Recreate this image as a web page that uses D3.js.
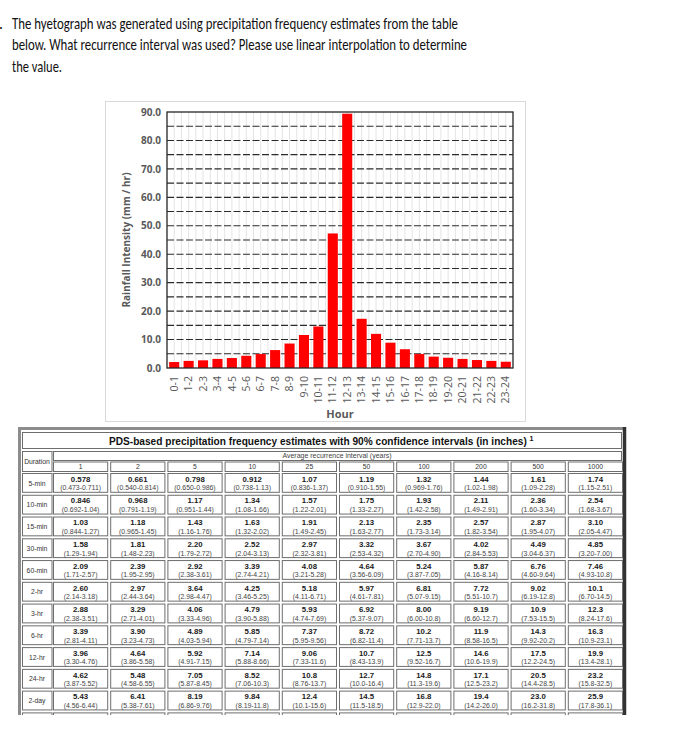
<!DOCTYPE html>
<html>
<head>
<meta charset="utf-8">
<script src="https://cdn.jsdelivr.net/npm/d3@7"></script>
<style>
  body { margin: 0; background: #fff; }
  svg { display: block; }
</style>
</head>
<body>
<script>
// question text above the figure
const questionLines = [
  "The hyetograph was generated using precipitation frequency estimates from the table",
  "below. What recurrence interval was used? Please use linear interpolation to determine",
  "the value."
];
const questionWidths = [446, 455, 50];

// hyetograph
const hours = ["0-1", "1-2", "2-3", "3-4", "4-5", "5-6", "6-7", "7-8", "8-9", "9-10", "10-11", "11-12",
  "12-13", "13-14", "14-15", "15-16", "16-17", "17-18", "18-19", "19-20", "20-21", "21-22", "22-23", "23-24"];
const intensity = [2.1, 2.5, 2.7, 3.2, 3.5, 4.3, 4.9, 6.3, 8.6, 11.6, 14.6, 47.3,
  89.4, 17.3, 12.0, 8.9, 6.6, 4.9, 4.0, 3.6, 3.2, 2.8, 2.5, 2.2];
const yTickValues = [0, 10, 20, 30, 40, 50, 60, 70, 80, 90];

// PDS table
const tableTitle = "PDS-based precipitation frequency estimates with 90% confidence intervals (in inches)";
const durations = ["5-min", "10-min", "15-min", "30-min", "60-min", "2-hr", "3-hr", "6-hr", "12-hr", "24-hr", "2-day"];
const recurrence = ["1", "2", "5", "10", "25", "50", "100", "200", "500", "1000"];
const estimates = [
  ["0.578", "0.661", "0.798", "0.912", "1.07", "1.19", "1.32", "1.44", "1.61", "1.74"],
  ["0.846", "0.968", "1.17", "1.34", "1.57", "1.75", "1.93", "2.11", "2.36", "2.54"],
  ["1.03", "1.18", "1.43", "1.63", "1.91", "2.13", "2.35", "2.57", "2.87", "3.10"],
  ["1.58", "1.81", "2.20", "2.52", "2.97", "3.32", "3.67", "4.02", "4.49", "4.85"],
  ["2.09", "2.39", "2.92", "3.39", "4.08", "4.64", "5.24", "5.87", "6.76", "7.46"],
  ["2.60", "2.97", "3.64", "4.25", "5.18", "5.97", "6.81", "7.72", "9.02", "10.1"],
  ["2.88", "3.29", "4.06", "4.79", "5.93", "6.92", "8.00", "9.19", "10.9", "12.3"],
  ["3.39", "3.90", "4.89", "5.85", "7.37", "8.72", "10.2", "11.9", "14.3", "16.3"],
  ["3.96", "4.64", "5.92", "7.14", "9.06", "10.7", "12.5", "14.6", "17.5", "19.9"],
  ["4.62", "5.48", "7.05", "8.52", "10.8", "12.7", "14.8", "17.1", "20.5", "23.2"],
  ["5.43", "6.41", "8.19", "9.84", "12.4", "14.5", "16.8", "19.4", "23.0", "25.9"]
];
const intervals = [
  ["0.473-0.711", "0.540-0.814", "0.650-0.986", "0.738-1.13", "0.836-1.37", "0.910-1.55", "0.969-1.76", "1.02-1.98", "1.09-2.28", "1.15-2.51"],
  ["0.692-1.04", "0.791-1.19", "0.951-1.44", "1.08-1.66", "1.22-2.01", "1.33-2.27", "1.42-2.58", "1.49-2.91", "1.60-3.34", "1.68-3.67"],
  ["0.844-1.27", "0.965-1.45", "1.16-1.76", "1.32-2.02", "1.49-2.45", "1.63-2.77", "1.73-3.14", "1.82-3.54", "1.95-4.07", "2.05-4.47"],
  ["1.29-1.94", "1.48-2.23", "1.79-2.72", "2.04-3.13", "2.32-3.81", "2.53-4.32", "2.70-4.90", "2.84-5.53", "3.04-6.37", "3.20-7.00"],
  ["1.71-2.57", "1.95-2.95", "2.38-3.61", "2.74-4.21", "3.21-5.28", "3.56-6.09", "3.87-7.05", "4.16-8.14", "4.60-9.64", "4.93-10.8"],
  ["2.14-3.18", "2.44-3.64", "2.98-4.47", "3.46-5.25", "4.11-6.71", "4.61-7.81", "5.07-9.15", "5.51-10.7", "6.19-12.8", "6.70-14.5"],
  ["2.38-3.51", "2.71-4.01", "3.33-4.96", "3.90-5.88", "4.74-7.69", "5.37-9.07", "6.00-10.8", "6.60-12.7", "7.53-15.5", "8.24-17.6"],
  ["2.81-4.11", "3.23-4.73", "4.03-5.94", "4.79-7.14", "5.95-9.56", "6.82-11.4", "7.71-13.7", "8.58-16.5", "9.92-20.2", "10.9-23.1"],
  ["3.30-4.76", "3.86-5.58", "4.91-7.15", "5.88-8.66", "7.33-11.6", "8.43-13.9", "9.52-16.7", "10.6-19.9", "12.2-24.5", "13.4-28.1"],
  ["3.87-5.52", "4.58-6.55", "5.87-8.45", "7.06-10.3", "8.76-13.7", "10.0-16.4", "11.3-19.6", "12.5-23.2", "14.4-28.5", "15.8-32.5"],
  ["4.56-6.44", "5.38-7.61", "6.86-9.76", "8.19-11.8", "10.1-15.6", "11.5-18.5", "12.9-22.0", "14.2-26.0", "16.2-31.8", "17.8-36.1"]
];
// the photo cuts the table inside the next row
const cutRow = "next";

const width = 685, height = 735;
const svg = d3.select("body").append("svg")
    .attr("width", width)
    .attr("height", height);

// ---- question ----
const q = svg.append("g")
    .style("font-family", "Carlito, Calibri, 'Open Sans', sans-serif")
    .style("font-size", "15.5px")
    .attr("fill", "#111");
q.append("text").attr("x", -1).attr("y", 29).text(".");
q.selectAll("text.line")
    .data(questionLines)
    .join("text")
    .attr("class", "line")
    .attr("x", 12)
    .attr("y", (d, i) => 29 + i * 21.4)
    .attr("textLength", (d, i) => questionWidths[i])
    .attr("lengthAdjust", "spacingAndGlyphs")
    .text(d => d);

// ---- hyetograph ----
const grey = "#595959";
const chart = svg.append("g").style("font-family", "'Open Sans', sans-serif");

chart.append("rect")
    .attr("x", 105.5).attr("y", 101.5)
    .attr("width", 420).attr("height", 320)
    .attr("fill", "#fff")
    .attr("stroke", "#d9d9d9");

const x = d3.scaleBand()
    .domain(hours)
    .range([167, 513])
    .paddingInner(0.3)
    .paddingOuter(0.15);
const y = d3.scaleLinear()
    .domain([0, 90])
    .range([368, 112]);

// light vertical grid every half category
const half = x.step() / 2;
chart.append("g")
    .selectAll("line")
    .data(d3.range(1, hours.length * 2))
    .join("line")
    .attr("x1", k => x.range()[0] + k * half)
    .attr("x2", k => x.range()[0] + k * half)
    .attr("y1", y(90))
    .attr("y2", y(0))
    .attr("stroke", "#e4e4e4")
    .attr("stroke-width", 1);

// dashed horizontal grid every 5
chart.append("g")
    .selectAll("line")
    .data(y.ticks(18).filter(v => v > 0 && v < 90))
    .join("line")
    .attr("x1", x.range()[0])
    .attr("x2", x.range()[1])
    .attr("y1", d => y(d))
    .attr("y2", d => y(d))
    .attr("stroke", "#2b2b2b")
    .attr("stroke-width", 1.1)
    .attr("stroke-dasharray", "7,2.5");

chart.append("g")
    .selectAll("rect")
    .data(intensity)
    .join("rect")
    .attr("x", (d, i) => x(hours[i]))
    .attr("width", x.bandwidth())
    .attr("y", d => y(d))
    .attr("height", d => y(0) - y(d))
    .attr("fill", "#ff0000");

chart.append("rect")
    .attr("x", x.range()[0]).attr("y", y(90))
    .attr("width", x.range()[1] - x.range()[0])
    .attr("height", y(0) - y(90))
    .attr("fill", "none")
    .attr("stroke", "#262626")
    .attr("stroke-width", 1.3);

const yAxis = chart.append("g")
    .attr("transform", "translate(" + x.range()[0] + ",0)")
    .call(d3.axisLeft(y).tickValues(yTickValues).tickFormat(d3.format(".1f")).tickSize(0).tickPadding(6));
yAxis.select(".domain").remove();
yAxis.selectAll("text")
    .attr("fill", grey)
    .style("font-family", "'Open Sans', sans-serif")
    .style("font-size", "10px")
    .style("font-weight", "bold");

const xAxis = chart.append("g")
    .attr("transform", "translate(0," + y(0) + ")")
    .call(d3.axisBottom(x).tickSize(0));
xAxis.select(".domain").remove();
xAxis.selectAll("text")
    .attr("transform", "rotate(-90)")
    .attr("x", -8)
    .attr("y", 0)
    .attr("dy", "0.35em")
    .style("text-anchor", "end")
    .attr("fill", grey)
    .style("font-family", "'Open Sans', sans-serif")
    .style("font-size", "10.5px");

chart.append("text")
    .attr("x", (x.range()[0] + x.range()[1]) / 2)
    .attr("y", 418)
    .attr("text-anchor", "middle")
    .attr("fill", grey)
    .style("font-size", "11px")
    .style("font-weight", "bold")
    .text("Hour");

chart.append("text")
    .attr("transform", "translate(130," + (y(45)) + ") rotate(-90)")
    .attr("text-anchor", "middle")
    .attr("fill", grey)
    .style("font-size", "10px")
    .style("font-weight", "bold")
    .text("Rainfall Intensity (mm / hr)");

// ---- table ----
svg.append("clipPath").attr("id", "cut")
    .append("rect").attr("x", 0).attr("y", 0).attr("width", width).attr("height", 715);
const tbl = svg.append("g")
    .attr("clip-path", "url(#cut)")
    .style("font-family", "'Liberation Sans', Arial, sans-serif");

// outset frame
tbl.append("line").attr("x1", 19.5).attr("x2", 19.5).attr("y1", 427).attr("y2", 740)
    .attr("stroke", "#8c8c8c").attr("stroke-width", 3);
tbl.append("line").attr("x1", 18).attr("x2", 626).attr("y1", 428.5).attr("y2", 428.5)
    .attr("stroke", "#8c8c8c").attr("stroke-width", 3);
tbl.append("line").attr("x1", 624.5).attr("x2", 624.5).attr("y1", 427).attr("y2", 740)
    .attr("stroke", "#333").attr("stroke-width", 3.5);

const cellStroke = "#6e6e6e";
function cell(x0, y0, w, h) {
  tbl.append("rect")
      .attr("x", x0 + 0.5).attr("y", y0 + 0.5)
      .attr("width", w - 1).attr("height", h - 1)
      .attr("fill", "#fff")
      .attr("stroke", cellStroke)
      .attr("stroke-width", 1);
}

const col = d3.scaleBand()
    .domain(recurrence)
    .range([53, 623])
    .paddingInner(0.035);
const rowKeys = durations.concat([cutRow]);
const row = d3.scaleBand()
    .domain(rowKeys)
    .range([473, 473 + 21.6 * rowKeys.length])
    .paddingInner(0.09);

// title row: squeeze the title to the width it has in the picture
cell(22, 432, 600, 17);
const titleWidth = 418;
const title = tbl.append("text")
    .attr("x", 0).attr("y", 0)
    .attr("fill", "#111")
    .style("font-size", "11.5px")
    .style("font-weight", "bold")
    .text(tableTitle);
const naturalWidth = title.node().getComputedTextLength();
title.attr("transform", "translate(109,445) scale(" + (titleWidth / naturalWidth) + ",1)");
tbl.append("text")
    .attr("x", 109 + titleWidth + 2.5).attr("y", 441)
    .attr("fill", "#111")
    .style("font-size", "7px")
    .style("font-weight", "bold")
    .text("1");

// header
cell(22, 451, 30.5, 21);
tbl.append("text")
    .attr("x", 37).attr("y", 463.5)
    .attr("text-anchor", "middle")
    .attr("fill", "#333")
    .style("font-size", "6.8px")
    .text("Duration");
cell(53, 451, 569, 10);
tbl.append("text")
    .attr("x", 337).attr("y", 458)
    .attr("text-anchor", "middle")
    .attr("textLength", 109)
    .attr("lengthAdjust", "spacingAndGlyphs")
    .attr("fill", "#444")
    .style("font-size", "6.8px")
    .text("Average recurrence interval (years)");
recurrence.forEach(r => {
  cell(col(r), 461.5, col.bandwidth(), 10.5);
  tbl.append("text")
      .attr("x", col(r) + col.bandwidth() / 2)
      .attr("y", 469)
      .attr("text-anchor", "middle")
      .attr("fill", "#333")
      .style("font-size", "6.8px")
      .text(r);
});

// body rows
rowKeys.forEach((d, i) => {
  const top = row(d), h = row.bandwidth();
  cell(22, top, 30.5, h);
  recurrence.forEach(r => cell(col(r), top, col.bandwidth(), h));
  if (i >= durations.length) return;
  tbl.append("text")
      .attr("x", 37).attr("y", top + 12.5)
      .attr("text-anchor", "middle")
      .attr("fill", "#333")
      .style("font-size", "6.8px")
      .text(d);
  recurrence.forEach((r, j) => {
    const cx = col(r) + col.bandwidth() / 2;
    tbl.append("text")
        .attr("x", cx).attr("y", top + 8.7)
        .attr("text-anchor", "middle")
        .attr("fill", "#1a1a1a")
        .style("font-size", "7.8px")
        .style("font-weight", "bold")
        .text(estimates[i][j]);
    tbl.append("text")
        .attr("x", cx).attr("y", top + 17.3)
        .attr("text-anchor", "middle")
        .attr("fill", "#444")
        .style("font-size", "6.9px")
        .text("(" + intervals[i][j] + ")");
  });
});
</script>
</body>
</html>
